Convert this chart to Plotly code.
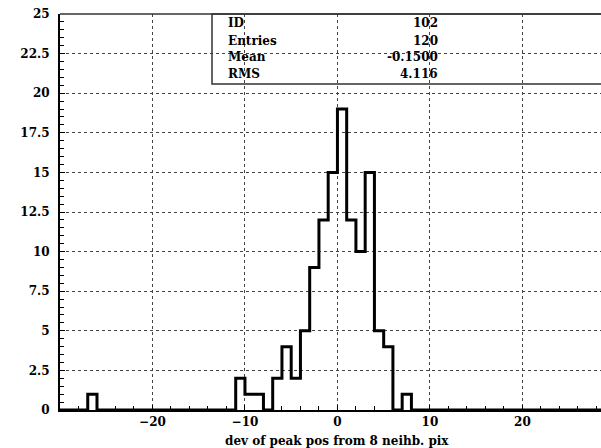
import numpy as np
import plotly.graph_objects as go

# ---- data ----
bin_low = [-27, -11, -10, -9, -7, -6, -5, -4, -3, -2, -1, 0, 1, 2, 3, 4, 5, 7]
counts = [1, 2, 1, 1, 2, 4, 2, 5, 9, 12, 15, 19, 12, 10, 15, 5, 4, 1]
x_min, x_max, bin_w = -30, 30, 1
x_ticks = [-20, -10, 0, 10, 20]
stat_labels = ["ID", "Entries", "Mean", "RMS"]
stat_values = ["102", "120", "-0.1500", "4.116"]
x_title = "dev of peak pos from 8 neihb. pix"

# build full histogram contents on the bin edges
edges = np.arange(x_min, x_max + bin_w, bin_w)
full = np.zeros(len(edges) - 1)
for lo, c in zip(bin_low, counts):
    full[int((lo - x_min) / bin_w)] = c
step_y = np.append(full, full[-1])

FONT = dict(family="DejaVu Serif", size=12, color="black", weight="bold")

fig = go.Figure()
fig.add_trace(go.Scatter(
    x=edges, y=step_y, mode="lines", line=dict(color="black", width=3, shape="hv"),
    cliponaxis=False, showlegend=False, hoverinfo="skip"))

W, H = 601, 448
L, R, T, B = 60, 0, 14, 38
pw, ph = W - L - R, H - T - B

fig.update_layout(
    width=W, height=H, margin=dict(l=L, r=R, t=T, b=B),
    paper_bgcolor="white", plot_bgcolor="white", font=FONT,
    xaxis=dict(range=[-30, 28.5], tickvals=x_ticks, showgrid=True, griddash="dot",
               gridcolor="#444", gridwidth=1, zeroline=False, showline=True,
               linecolor="black", linewidth=2, ticks="inside", ticklen=5,
               tickcolor="black", tickwidth=1, tickfont=FONT,
               minor=dict(dtick=2, tick0=0, ticks="inside", ticklen=4, tickcolor="black",
                          showgrid=False)),
    yaxis=dict(range=[0, 25], dtick=2.5, tick0=0, showgrid=True, griddash="dot",
               gridcolor="#444", gridwidth=1, zeroline=False, showline=True,
               linecolor="black", linewidth=2, ticks="inside", ticklen=5,
               tickcolor="black", tickwidth=1, tickfont=FONT, ticklabelstandoff=6,
               minor=dict(dtick=0.5, tick0=0, ticks="inside", ticklen=4, tickcolor="black",
                          showgrid=False)),
)

# top frame line
fig.add_shape(type="line", xref="paper", yref="paper", x0=0, x1=1, y0=1, y1=1,
              line=dict(color="#333", width=1.5))

# stat box
bx0 = (212 - L) / pw
by0 = (410 - 84) / ph
fig.add_shape(type="rect", xref="paper", yref="paper", x0=bx0, x1=1.05, y0=by0, y1=1,
              line=dict(color="#333", width=1.5), fillcolor="rgba(0,0,0,0)")
row_px = [23, 41, 57, 74]
for lab, val, py in zip(stat_labels, stat_values, row_px):
    yp = (410 - py) / ph
    fig.add_annotation(xref="paper", yref="paper", x=(226 - L) / pw, y=yp, text=lab,
                       showarrow=False, xanchor="left", yanchor="middle", font=FONT)
    fig.add_annotation(xref="paper", yref="paper", x=(440 - L) / pw, y=yp, text=val,
                       showarrow=False, xanchor="right", yanchor="middle", font=FONT)

# x axis title
fig.add_annotation(xref="paper", yref="paper", x=(337 - L) / pw, y=(410 - 441) / ph,
                   text=x_title, showarrow=False, xanchor="center", yanchor="middle",
                   font=FONT)

fig.write_html("out.html")
